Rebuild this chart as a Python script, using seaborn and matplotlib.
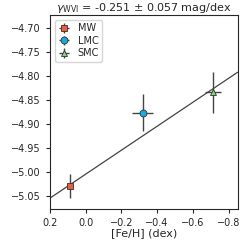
import numpy as np
import pandas as pd
import matplotlib
matplotlib.use("Agg")
import matplotlib.pyplot as plt
import seaborn as sns

# --- data ---
galaxies = ["MW", "LMC", "SMC"]
feh = [0.087, -0.319, -0.712]
feh_err = [0.01, 0.059, 0.045]
zp = [-5.030, -4.876, -4.834]
zp_err = [0.025, 0.038, 0.042]
markers = ["s", "o", "^"]
colors = ["#ee5a3c", "#1aa7e6", "#86d67e"]

slope = -0.251
slope_err = 0.057
intercept = -5.005
x_range = [0.2, -0.85]

sns.set_style("ticks")
plt.rcParams["font.family"] = ["DejaVu Sans"]

fig = plt.figure(figsize=(2.4, 2.4), dpi=100)
ax = fig.add_axes([0.208, 0.129, 0.782, 0.808])

# fit line
xl = np.array(x_range)
fit = pd.DataFrame({"feh": xl, "zp": intercept + slope * xl})
sns.lineplot(data=fit, x="feh", y="zp", ax=ax, color="#444444", lw=0.9, zorder=1)

for i, g in enumerate(galaxies):
    ax.errorbar(feh[i], zp[i], xerr=feh_err[i], yerr=zp_err[i], fmt=markers[i],
                color="#444444", mfc=colors[i], mec="#333333", ms=5, mew=0.6,
                elinewidth=1.0, capsize=0, label=g, zorder=3)

ax.set_xlim(x_range)
ax.set_ylim(-5.078, -4.672)
ax.set_xticks([0.2, 0.0, -0.2, -0.4, -0.6, -0.8])
ax.set_yticks([-4.70, -4.75, -4.80, -4.85, -4.90, -4.95, -5.00, -5.05])
ax.tick_params(labelsize=7, length=3, width=0.8)
ax.set_xlabel("[Fe/H] (dex)", fontsize=8, labelpad=0)
ax.set_ylabel("")
ax.set_title(r"$\gamma_{\rm WVI}$ = -0.251 ± 0.057 mag/dex", fontsize=8, pad=2)
for s in ax.spines.values():
    s.set_linewidth(0.8)

ax.legend(loc="upper left", fontsize=7, handletextpad=0.8, borderpad=0.35,
          labelspacing=0.25, handlelength=1.2, frameon=True)

fig.savefig("out.png", dpi=100)
